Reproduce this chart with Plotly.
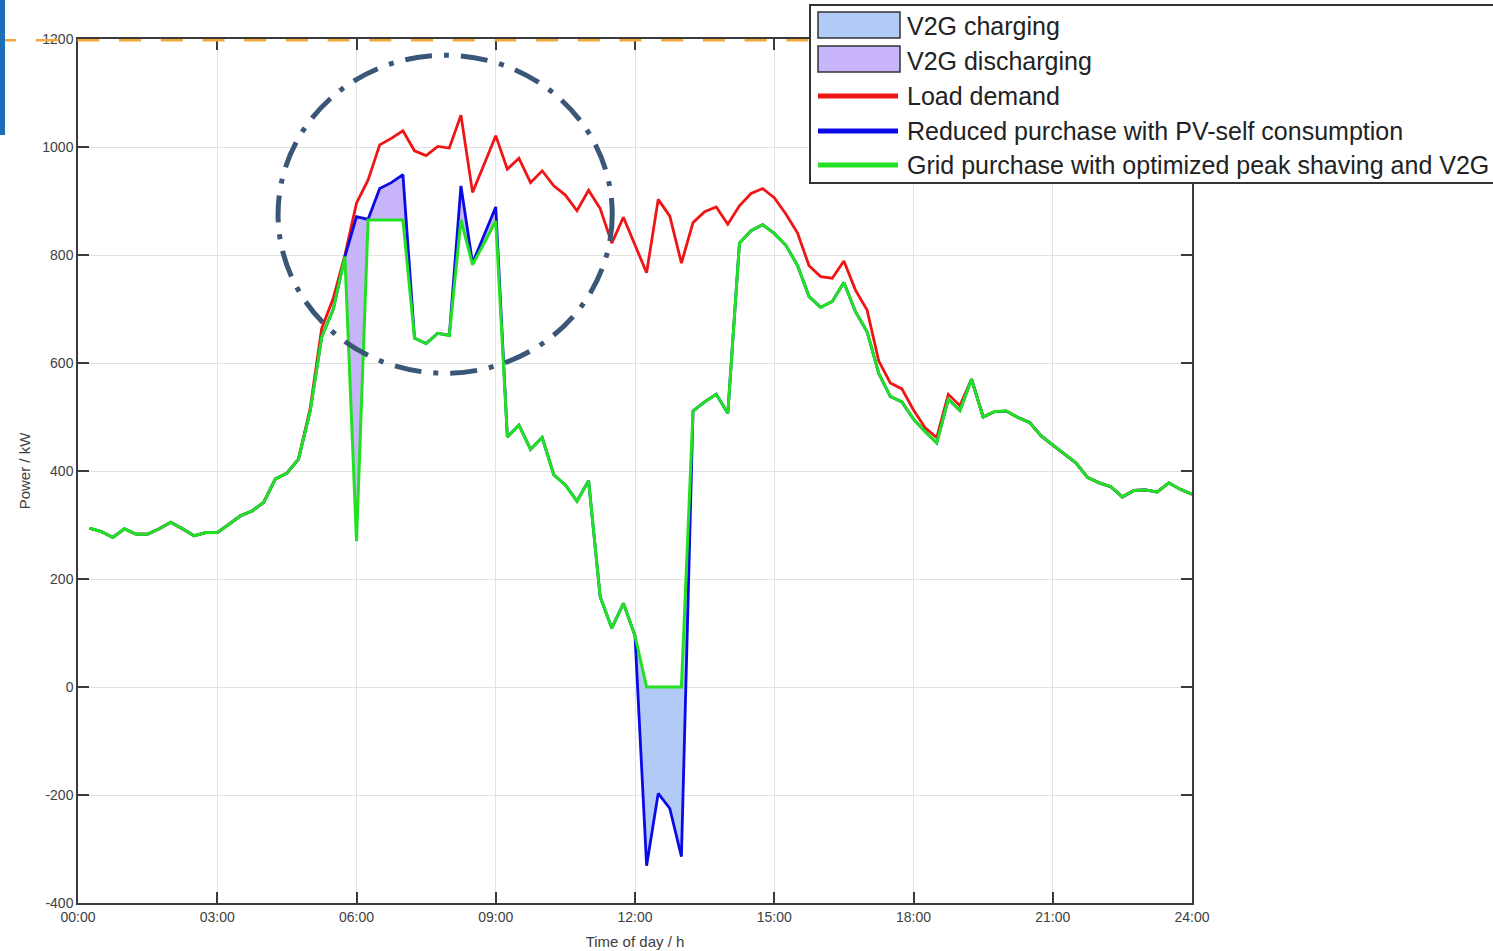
import plotly.graph_objects as go

# ---------------- data (15-min resolution, 00:15 ... 24:00) ----------------
time_h = [i * 0.25 for i in range(1, 97)]

load_demand = [
    294, 288, 277, 293, 283, 283, 293, 305, 293, 280, 286, 286,
    301, 317, 326, 342, 385, 396, 422, 515, 664, 720, 800, 896,
    939, 1004, 1016, 1030, 993, 984, 1001, 998, 1059, 916, 968, 1021,
    959, 979, 934, 956, 928, 911, 882, 920, 886, 822, 870, 819,
    767, 903, 872, 785, 860, 880, 889, 857, 891, 914, 923, 906,
    876, 841, 780, 760, 757, 789, 735, 698, 604, 563, 552, 513,
    480, 462, 542, 521, 570, 500, 510, 511, 499, 490, 465, 448,
    431, 415, 388, 378, 371, 352, 364, 365, 361, 378, 366, 357,
]

reduced_purchase = [
    294, 288, 277, 293, 283, 283, 293, 305, 293, 280, 286, 286,
    301, 317, 326, 342, 385, 396, 422, 510, 648, 700, 797, 871,
    866, 923, 934, 949, 646, 636, 655, 651, 928, 785, 837, 889,
    463, 485, 440, 462, 393, 374, 344, 382, 167, 109, 155, 95,
    -331, -197, -225, -314, 511, 528, 542, 507, 822, 845, 856, 840,
    818, 781, 723, 703, 714, 749, 695, 658, 581, 538, 528, 496,
    473, 452, 533, 512, 570, 500, 510, 511, 499, 490, 465, 448,
    431, 415, 388, 378, 371, 352, 364, 365, 361, 378, 366, 357,
]

grid_purchase = [
    294, 288, 277, 293, 283, 283, 293, 305, 293, 280, 286, 286,
    301, 317, 326, 342, 385, 396, 422, 510, 648, 700, 797, 270,
    865, 865, 865, 865, 646, 636, 655, 651, 865, 782, 822, 863,
    463, 485, 440, 462, 393, 374, 344, 382, 167, 109, 155, 95,
    0, 0, 0, 0, 511, 528, 542, 507, 822, 845, 856, 840,
    818, 781, 723, 703, 714, 749, 695, 658, 581, 538, 528, 496,
    473, 452, 533, 512, 570, 500, 510, 511, 499, 490, 465, 448,
    431, 415, 388, 378, 371, 352, 364, 365, 361, 378, 366, 357,
]

x_tick_vals = [0, 3, 6, 9, 12, 15, 18, 21, 24]
x_tick_text = ["00:00", "03:00", "06:00", "09:00", "12:00", "15:00", "18:00", "21:00", "24:00"]
y_tick_vals = [-400, -200, 0, 200, 400, 600, 800, 1000, 1200]
y_tick_text = ["-400", "-200", "0", "200", "400", "600", "800", "1000", "1200"]

legend_labels = [
    "V2G charging",
    "V2G discharging",
    "Load demand",
    "Reduced purchase with PV-self consumption",
    "Grid purchase with optimized peak shaving and V2G",
]

# ---------------- styling ----------------
C_LOAD = "#f01414"
C_RED = "#0a0ae6"
C_GRID = "#22e022"
C_CHG = "rgb(178,202,246)"
C_DIS = "rgb(200,180,248)"
FONT = "Liberation Sans, Arial, sans-serif"

W, H = 1493, 951
L, R, T, B = 78, 301, 39, 48
PW, PH = W - L - R, H - T - B


def px(x):
    return (x - L) / PW


def py(y):
    return (H - B - y) / PH


fig = go.Figure()

# V2G discharging area (reduced purchase above grid purchase)
dis_idx = [i for i, t in enumerate(time_h) if 5.5 <= t <= 9.25]
dis_x = [time_h[i] for i in dis_idx]
fig.add_trace(go.Scatter(x=dis_x, y=[grid_purchase[i] for i in dis_idx], mode="lines",
                         line=dict(width=0), showlegend=False, hoverinfo="skip"))
fig.add_trace(go.Scatter(x=dis_x, y=[max(reduced_purchase[i], grid_purchase[i]) for i in dis_idx],
                         mode="lines", line=dict(width=0), fill="tonexty", fillcolor=C_DIS,
                         name=legend_labels[1], showlegend=False))

# V2G charging area (reduced purchase below grid purchase)
chg_idx = [i for i, t in enumerate(time_h) if 11.75 <= t <= 13.5]
chg_x = [time_h[i] for i in chg_idx]
fig.add_trace(go.Scatter(x=chg_x, y=[grid_purchase[i] for i in chg_idx], mode="lines",
                         line=dict(width=0), showlegend=False, hoverinfo="skip"))
fig.add_trace(go.Scatter(x=chg_x, y=[min(reduced_purchase[i], grid_purchase[i]) for i in chg_idx],
                         mode="lines", line=dict(width=0), fill="tonexty", fillcolor=C_CHG,
                         name=legend_labels[0], showlegend=False))

fig.add_trace(go.Scatter(x=time_h, y=load_demand, mode="lines", name=legend_labels[2],
                         line=dict(color=C_LOAD, width=2.8), showlegend=False))
fig.add_trace(go.Scatter(x=time_h, y=reduced_purchase, mode="lines", name=legend_labels[3],
                         line=dict(color=C_RED, width=2.8), showlegend=False))
fig.add_trace(go.Scatter(x=time_h, y=grid_purchase, mode="lines", name=legend_labels[4],
                         line=dict(color=C_GRID, width=3), showlegend=False))

shapes = []
# dash-dot ellipse highlighting the morning peak
shapes.append(dict(type="circle", xref="x", yref="y", x0=4.31, x1=11.51, y0=581, y1=1170,
                   line=dict(color="#3b5778", width=5, dash="27px,12px,5px,12px")))
# orange dashed reference line at the top
shapes.append(dict(type="line", xref="paper", yref="y", x0=px(-6), x1=1.0, y0=1200, y1=1200,
                   line=dict(color="#f2a93b", width=5, dash="22px,19.7px")))
# blue bar on the far left edge
shapes.append(dict(type="rect", xref="paper", yref="paper", x0=px(0), x1=px(5), y0=py(135), y1=py(0),
                   fillcolor="#1a6fb8", line=dict(width=0)))

# legend box (drawn manually to mimic the large swatches)
shapes.append(dict(type="rect", xref="paper", yref="paper", x0=px(810), x1=px(1510), y0=py(183), y1=py(5),
                   fillcolor="white", line=dict(color="#333333", width=2)))
shapes.append(dict(type="rect", xref="paper", yref="paper", x0=px(818), x1=px(900), y0=py(38), y1=py(12),
                   fillcolor=C_CHG, line=dict(color="#333333", width=1.5)))
shapes.append(dict(type="rect", xref="paper", yref="paper", x0=px(818), x1=px(900), y0=py(72), y1=py(46),
                   fillcolor=C_DIS, line=dict(color="#333333", width=1.5)))
for yy, col in [(96, C_LOAD), (131, C_RED), (165, C_GRID)]:
    shapes.append(dict(type="line", xref="paper", yref="paper", x0=px(818), x1=px(898), y0=py(yy), y1=py(yy),
                       line=dict(color=col, width=5)))

annotations = []
for lab, yy in zip(legend_labels, [26, 61, 96, 131, 165]):
    annotations.append(dict(text=lab, xref="paper", yref="paper", x=px(905), y=py(yy),
                            xanchor="left", yanchor="middle", showarrow=False,
                            font=dict(family=FONT, size=25, color="#222222")))

axis_common = dict(
    showgrid=True, gridcolor="#e2e2e2", gridwidth=1,
    showline=True, linecolor="#3a3a3a", linewidth=1.5, mirror="ticks",
    ticks="inside", ticklen=11, tickwidth=1.5, tickcolor="#3a3a3a",
    tickfont=dict(family=FONT, size=14, color="#404040"),
    zeroline=False,
)

fig.update_layout(
    width=W, height=H,
    margin=dict(l=L, r=R, t=T, b=B, autoexpand=False),
    paper_bgcolor="white", plot_bgcolor="white",
    font=dict(family=FONT, color="#404040"),
    showlegend=False,
    xaxis=dict(range=[0, 24], tickvals=x_tick_vals, ticktext=x_tick_text,
               title=dict(text="Time of day / h", font=dict(family=FONT, size=15, color="#404040"), standoff=13),
               **axis_common),
    yaxis=dict(range=[-400, 1200], tickvals=y_tick_vals, ticktext=y_tick_text,
               title=dict(text="Power / kW", font=dict(family=FONT, size=15, color="#404040"), standoff=8),
               **axis_common),
    shapes=shapes,
    annotations=annotations,
)

fig.write_html("out.html", config={"displayModeBar": False},
               post_script="document.body.style.margin='0';document.body.style.overflow='hidden';")
